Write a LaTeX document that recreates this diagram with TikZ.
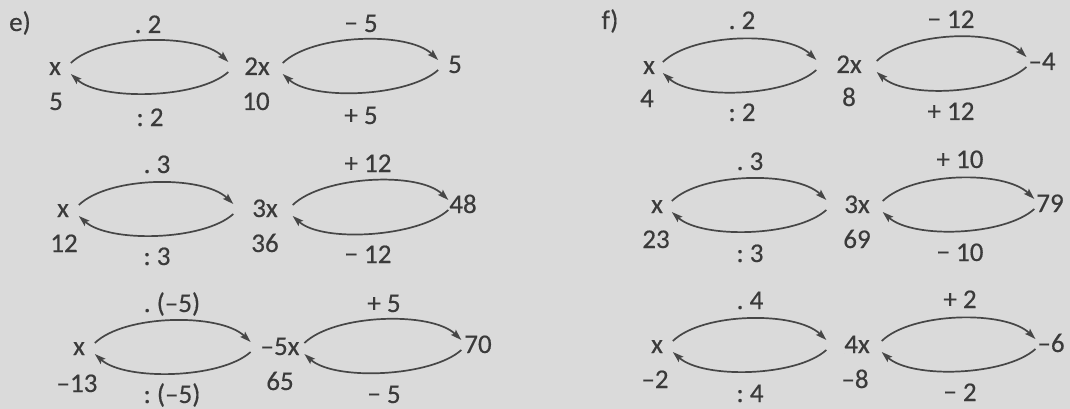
\documentclass[tikz,border=0pt]{standalone}
\usepackage{fontspec}
\setmainfont[FakeBold=0.4,AutoFakeBold=0.4]{Carlito}
\usetikzlibrary{arrows.meta}
\definecolor{bg}{RGB}{218,218,218}
\definecolor{ink}{RGB}{58,58,58}
\definecolor{arcc}{RGB}{70,70,70}
\tikzset{
 lbl/.style={anchor=base, inner sep=0pt, outer sep=0pt, text=ink, font=\fontsize{27}{32}\selectfont\bfseries},
 loopline/.style={draw=arcc, line width=1.7pt, -{Stealth[length=11pt,width=7pt,inset=2pt]}},
}
\newcommand\arcpair[4]{%
 \draw[loopline] ([shift={(#3,-12)}]#1.base east) .. controls +(30,-29) and +(-30,-29) .. ([shift={(-#4,-13)}]#2.base west);
 \draw[loopline] ([shift={(-#4,-3)}]#2.base west) .. controls +(-30,27) and +(30,27) .. ([shift={(#3,-1)}]#1.base east);
}
\begin{document}
\begin{tikzpicture}[x=1pt,y=-1pt]
\fill[bg] (0,0) rectangle (1070,409);
\useasboundingbox (0,0) rectangle (1070,409);
% ---------- e ----------
\node[lbl] (eL) at (20,31) {e)};
% row 1
\node[lbl] (ea1) at (55,75) {x};
\node[lbl] (eb1) at (257,75) {2x};
\node[lbl] (ec1) at (455,73) {5};
\node[lbl] (ea1v) at (56,110) {5};
\node[lbl] (eb1v) at (256,110) {10};
\node[lbl] (eab1t) at (148,33) {.\ 2};
\node[lbl] (eab1b) at (150,126) {:\ 2};
\node[lbl] (ebc1t) at (361,32) {−\ 5};
\node[lbl] (ebc1b) at (361,124) {+\ 5};
\arcpair{ea1}{eb1}{10}{16}
\arcpair{eb1}{ec1}{13}{10}
% row 2
\node[lbl] (ea2) at (63,217) {x};
\node[lbl] (eb2) at (265,217) {3x};
\node[lbl] (ec2) at (463,213) {48};
\node[lbl] (ea2v) at (64,252) {12};
\node[lbl] (eb2v) at (265,252) {36};
\node[lbl] (eab2t) at (157,173) {.\ 3};
\node[lbl] (eab2b) at (157,265) {:\ 3};
\node[lbl] (ebc2t) at (368,172) {+\ 12};
\node[lbl] (ebc2b) at (368,263) {−\ 12};
\arcpair{ea2}{eb2}{10}{19}
\arcpair{eb2}{ec2}{15}{1}
% row 3
\node[lbl] (ea3) at (79,355) {x};
\node[lbl] (eb3) at (280,355) {–5x};
\node[lbl] (ec3) at (478,353) {70};
\node[lbl] (ea3v) at (77,392) {–13};
\node[lbl] (eb3v) at (280,390) {65};
\node[lbl] (eab3t) at (172,312) {.\ (–5)};
\node[lbl] (eab3b) at (172,403) {:\ (–5)};
\node[lbl] (ebc3t) at (384,312) {+\ 5};
\node[lbl] (ebc3b) at (384,403) {−\ 5};
\arcpair{ea3}{eb3}{10}{10}
\arcpair{eb3}{ec3}{5}{3}
% ---------- f ----------
\node[lbl] (fL) at (610,29) {f)};
% row 1
\node[lbl] (fa1) at (649,74) {x};
\node[lbl] (fb1) at (849,73) {2x};
\node[lbl] (fc1) at (1042,70) {–4};
\node[lbl] (fa1v) at (647,107) {4};
\node[lbl] (fb1v) at (849,106) {8};
\node[lbl] (fab1t) at (742,29) {.\ 2};
\node[lbl] (fab1b) at (742,121) {:\ 2};
\node[lbl] (fbc1t) at (951,28) {−\ 12};
\node[lbl] (fbc1b) at (951,120) {+\ 12};
\arcpair{fa1}{fb1}{8}{20}
\arcpair{fb1}{fc1}{15}{2}
% row 2
\node[lbl] (fa2) at (657,213) {x};
\node[lbl] (fb2) at (857,213) {3x};
\node[lbl] (fc2) at (1050,212) {79};
\node[lbl] (fa2v) at (656,248) {23};
\node[lbl] (fb2v) at (857,248) {69};
\node[lbl] (fab2t) at (750,170) {.\ 3};
\node[lbl] (fab2b) at (750,262) {:\ 3};
\node[lbl] (fbc2t) at (960,168) {+\ 10};
\node[lbl] (fbc2b) at (960,261) {−\ 10};
\arcpair{fa2}{fb2}{9}{18}
\arcpair{fb2}{fc2}{13}{2}
% row 3
\node[lbl] (fa3) at (657,353) {x};
\node[lbl] (fb3) at (857,353) {4x};
\node[lbl] (fc3) at (1051,352) {–6};
\node[lbl] (fa3v) at (655,388) {–2};
\node[lbl] (fb3v) at (855,388) {–8};
\node[lbl] (fab3t) at (750,309) {.\ 4};
\node[lbl] (fab3b) at (750,402) {:\ 4};
\node[lbl] (fbc3t) at (960,308) {+\ 2};
\node[lbl] (fbc3b) at (960,401) {−\ 2};
\arcpair{fa3}{fb3}{10}{18}
\arcpair{fb3}{fc3}{12}{2}
\end{tikzpicture}
\end{document}
